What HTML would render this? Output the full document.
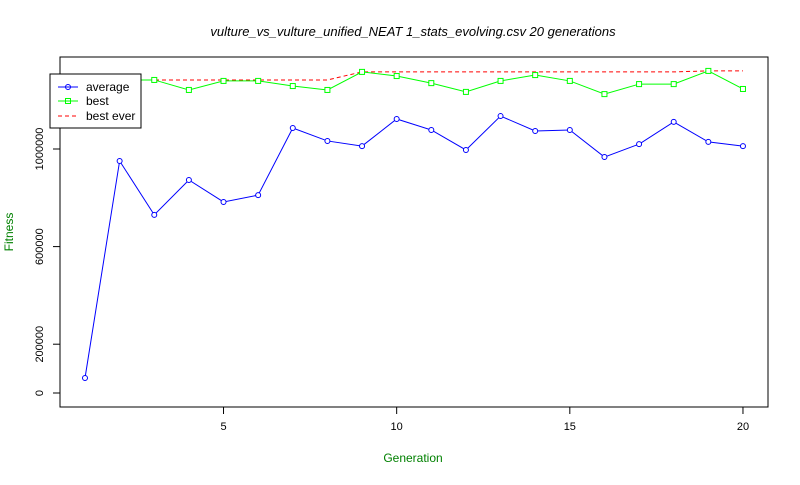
<!DOCTYPE html>
<html><head><style>
body{margin:0;background:#fff;}
svg text{font-family:"Liberation Sans",Arial,sans-serif;}
</style></head><body>
<svg id="chart" width="800" height="480" xmlns="http://www.w3.org/2000/svg">
<rect width="800" height="480" fill="#fff"/>
<text x="413" y="36" text-anchor="middle" font-size="13" font-style="italic">vulture_vs_vulture_unified_NEAT 1_stats_evolving.csv 20 generations</text>
<rect x="60" y="57" width="708" height="350" fill="none" stroke="#000"/>
<text x="413" y="462" text-anchor="middle" font-size="12" fill="#008000">Generation</text>
<text transform="translate(13,232) rotate(-90)" text-anchor="middle" font-size="12" fill="#008000">Fitness</text>
<g id="axes"></g>
<g id="series"></g>
<g>
<rect x="50" y="74" width="91" height="54" fill="#fff" stroke="#000"/>
<line x1="58" y1="87" x2="78" y2="87" stroke="#0000ff"/><circle cx="68" cy="87" r="2.5" fill="none" stroke="#0000ff"/>
<text x="86" y="91" font-size="12">average</text>
<line x1="58" y1="101" x2="78" y2="101" stroke="#00ff00"/><rect x="65.5" y="98.5" width="5" height="5" fill="none" stroke="#00ff00"/>
<text x="86" y="105" font-size="12">best</text>
<line x1="58" y1="116" x2="78" y2="116" stroke="#ff0000" stroke-dasharray="4,3"/>
<text x="86" y="120" font-size="12">best ever</text>
</g>
</svg>
<script>
const generations=[1,2,3,4,5,6,7,8,9,10,11,12,13,14,15,16,17,18,19,20];
const averageValues=[61500,951000,730000,873000,783000,811000,1086000,1033000,1012000,1123000,1078000,996000,1135000,1074000,1078000,967000,1020000,1111000,1029000,1012000];
const bestValues=[1240000,1283000,1283000,1242000,1279000,1279000,1258000,1242000,1316000,1299000,1270000,1234000,1279000,1303000,1279000,1225000,1266000,1266000,1320000,1246000];
const bestEverValues=[1283000,1283000,1283000,1283000,1283000,1283000,1283000,1283000,1316000,1316000,1316000,1316000,1316000,1316000,1316000,1316000,1316000,1316000,1320000,1320000];
const xTicks=[5,10,15,20];
const yTicks=[0,200000,600000,1000000];
const yTickLabels=["0","200000","600000","1000000"];
const X=g=>85+(g-1)*34.63;
const Y=v=>393-v*0.000244;
const NS="http://www.w3.org/2000/svg";
function mk(tag,attrs,parent){const e=document.createElementNS(NS,tag);for(const k in attrs)e.setAttribute(k,attrs[k]);parent.appendChild(e);return e;}
const axes=document.getElementById('axes'),ser=document.getElementById('series');
xTicks.forEach(t=>{
 const l=mk('line',{x1:X(t),x2:X(t),y1:407,y2:414,stroke:'#000'},axes);
 
 
 const tx=mk('text',{x:X(t),y:430,'text-anchor':'middle','font-size':11},axes);tx.textContent=t;
 
 
});
yTicks.forEach((t,i)=>{
 const l=mk('line',{x1:53,x2:60,y1:Y(t),y2:Y(t),stroke:'#000'},axes);
 
 
 const tx=mk('text',{transform:`translate(43,${Y(t)}) rotate(-90)`,'text-anchor':'middle','font-size':11},axes);tx.textContent=yTickLabels[i];
 
 
});
function pts(vals){return vals.map((v,i)=>X(generations[i])+','+Y(v)).join(' ');}
const be=mk('polyline',{points:pts(bestEverValues),fill:'none',stroke:'#ff0000','stroke-dasharray':'4,3'},ser);


const bl=mk('polyline',{points:pts(bestValues),fill:'none',stroke:'#00ff00'},ser);


bestValues.forEach((v,i)=>{
 const r=mk('rect',{x:X(generations[i])-2.5,y:Y(v)-2.5,width:5,height:5,fill:'#fff',stroke:'#00ff00'},ser);
 
 
});
const al=mk('polyline',{points:pts(averageValues),fill:'none',stroke:'#0000ff'},ser);


averageValues.forEach((v,i)=>{
 const c=mk('circle',{cx:X(generations[i]),cy:Y(v),r:2.5,fill:'#fff',stroke:'#0000ff'},ser);
 
 
});
</script>
</body></html>
